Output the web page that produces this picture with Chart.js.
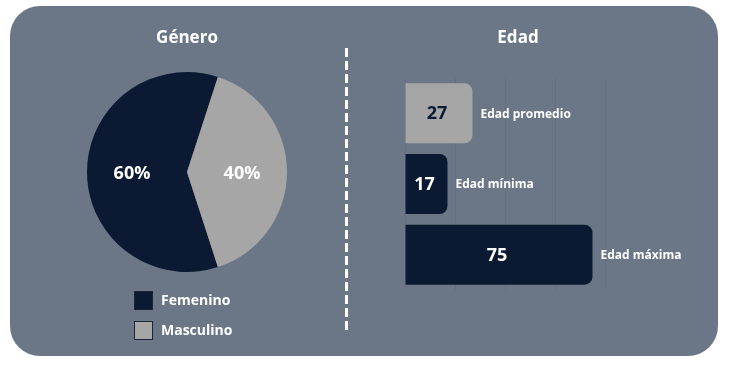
<!DOCTYPE html>
<html>
<head>
<meta charset="utf-8">
<script src="https://cdn.jsdelivr.net/npm/chart.js@4"></script>
<style>
  body { margin: 0; background: #fff; width: 730px; height: 366px; position: relative; overflow: hidden; }
  #panel { position: absolute; left: 10px; top: 6px; width: 708px; height: 350px; border-radius: 30px; background: #6b7786; }
  #divider { position: absolute; left: 345px; top: 48px; width: 3px; height: 286px;
    background: repeating-linear-gradient(to bottom, #fff 0 9px, transparent 9px 13px); }
  #pie-canvas { position: absolute; left: 37px; top: 20px; }
  #bar-canvas { position: absolute; left: 350px; top: 20px; }
</style>
</head>
<body>
<div id="panel"></div>
<div id="divider"></div>
<canvas id="pie-canvas" width="300" height="336"></canvas>
<canvas id="bar-canvas" width="336" height="336"></canvas>
<script>
// datos
const generoLabels = ['Femenino', 'Masculino'];
const generoValues = [60, 40];
const edadLabels = ['Edad promedio', 'Edad mínima', 'Edad máxima'];
const edadValues = [27, 17, 75];

const navy = '#0b1a32';
const gris = '#a6a6a6';
const font = "'Open Sans', 'DejaVu Sans', sans-serif";

Chart.defaults.font.family = font;
Chart.defaults.animation = false;

// etiquetas de porcentaje + leyenda vertical
const pieLabels = {
    id: 'pieLabels',
    afterDatasetsDraw(chart) {
        const ctx = chart.ctx;
        const meta = chart.getDatasetMeta(0);
        const total = generoValues.reduce((a, b) => a + b, 0);
        ctx.save();
        ctx.font = 'bold 18px ' + font;
        ctx.fillStyle = '#fff';
        ctx.textAlign = 'center';
        ctx.textBaseline = 'middle';
        meta.data.forEach((arc, i) => {
            const p = arc.getProps(['x', 'y', 'startAngle', 'endAngle', 'outerRadius']);
            const mid = (p.startAngle + p.endAngle) / 2;
            const r = p.outerRadius * 0.55;
            const pct = Math.round(generoValues[i] / total * 100) + '%';
            ctx.fillText(pct, p.x + Math.cos(mid) * r, p.y + Math.sin(mid) * r + 2);
        });
        ctx.restore();
    },
    afterDraw(chart) {
        const ctx = chart.ctx;
        const colors = chart.data.datasets[0].backgroundColor;
        ctx.save();
        ctx.font = 'bold 14px ' + font;
        ctx.textBaseline = 'middle';
        chart.data.labels.forEach((label, i) => {
            const x = 97, y = 271 + i * 30;
            ctx.fillStyle = colors[i];
            ctx.fillRect(x, y, 19, 19);
            ctx.strokeStyle = '#1a2436';
            ctx.lineWidth = 1;
            ctx.strokeRect(x + 0.5, y + 0.5, 18, 18);
            ctx.fillStyle = '#fff';
            ctx.fillText(label, x + 27, y + 10);
        });
        ctx.restore();
    }
};

new Chart(document.getElementById('pie-canvas'), {
    type: 'pie',
    data: {
        labels: generoLabels,
        datasets: [{
            data: generoValues,
            backgroundColor: [navy, gris],
            borderWidth: 0
        }]
    },
    options: {
        responsive: false,
        rotation: 162,
        layout: { padding: { bottom: 84 } },
        plugins: {
            legend: { display: false },
            tooltip: { enabled: false },
            title: {
                display: true,
                text: 'Género',
                color: '#fff',
                font: { size: 17, weight: 'bold' },
                padding: { top: 8, bottom: 23.6 }
            }
        }
    },
    plugins: [pieLabels]
});

// valores dentro de la barra, nombre a la derecha y título centrado
const barLabels = {
    id: 'barLabels',
    afterDatasetsDraw(chart) {
        const ctx = chart.ctx;
        const meta = chart.getDatasetMeta(0);
        ctx.save();
        ctx.textBaseline = 'middle';
        meta.data.forEach((bar, i) => {
            const p = bar.getProps(['x', 'y', 'base']);
            ctx.font = 'bold 18px ' + font;
            ctx.textAlign = 'center';
            ctx.fillStyle = i === 0 ? navy : '#fff';
            ctx.fillText(edadValues[i], (p.x + p.base) / 2 - 2, p.y + 1);
            ctx.font = 'bold 12px ' + font;
            ctx.textAlign = 'left';
            ctx.fillStyle = '#fff';
            ctx.fillText(edadLabels[i], p.x + 8, p.y + 1);
        });
        ctx.font = 'bold 17px ' + font;
        ctx.textAlign = 'center';
        ctx.fillStyle = '#fff';
        ctx.fillText('Edad', chart.width / 2, 18);
        ctx.restore();
    }
};

new Chart(document.getElementById('bar-canvas'), {
    type: 'bar',
    data: {
        labels: edadLabels,
        datasets: [{
            data: edadValues,
            backgroundColor: [gris, navy, navy],
            borderRadius: 8,
            borderSkipped: 'start',
            categoryPercentage: 1,
            barPercentage: 0.85
        }]
    },
    options: {
        responsive: false,
        indexAxis: 'y',
        layout: { padding: { left: 55, right: 81, top: 58, bottom: 66 } },
        scales: {
            x: {
                min: 0,
                max: 80,
                ticks: { display: false, stepSize: 20 },
                grid: { color: 'rgba(0,0,0,0.06)', drawTicks: false },
                border: { display: false }
            },
            y: { display: false }
        },
        plugins: {
            legend: { display: false },
            tooltip: { enabled: false },
            title: { display: false }
        }
    },
    plugins: [barLabels]
});
</script>
</body>
</html>
